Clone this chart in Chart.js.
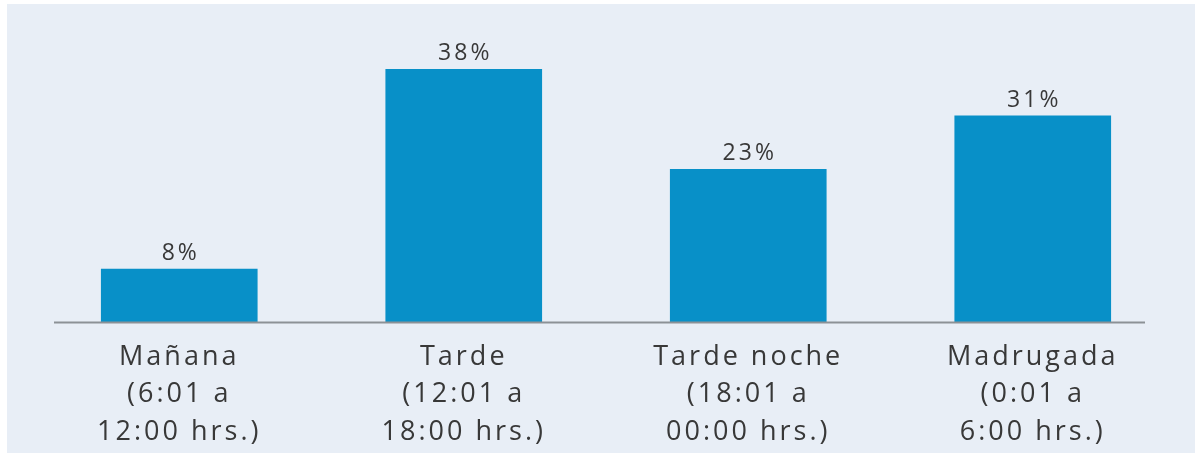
<!DOCTYPE html>
<html>
<head>
<meta charset="utf-8">
<script src="https://cdn.jsdelivr.net/npm/chart.js@4.4.1/dist/chart.umd.min.js"></script>
<style>
  html, body { margin: 0; padding: 0; background: #ffffff; }
  #wrap { position: relative; width: 1202px; height: 459px; }
  #panel { position: absolute; left: 7px; top: 4px; width: 1188px; height: 449px; background: #e8eef6; }
  #c { position: absolute; left: 0; top: 0; }
</style>
</head>
<body>
<div id="wrap">
  <div id="panel"></div>
  <canvas id="c" width="1202" height="459"></canvas>
</div>
<script>
const categories = [
  ["Mañana", "(6:01 a", "12:00 hrs.)"],
  ["Tarde", "(12:01 a", "18:00 hrs.)"],
  ["Tarde noche", "(18:01 a", "00:00 hrs.)"],
  ["Madrugada", "(0:01 a", "6:00 hrs.)"]
];
const values = [8, 38, 23, 31];
const valueLabels = ["8%", "38%", "23%", "31%"];

const TEXT = '#383838';
const FONT = '"Open Sans", "DejaVu Sans", sans-serif';

const spacingPlugin = {
  id: 'spacing',
  beforeLayout(chart) { chart.ctx.letterSpacing = '3px'; },
  beforeDraw(chart) { chart.ctx.letterSpacing = '3px'; }
};

const axisLinePlugin = {
  id: 'axisLine',
  afterDatasetsDraw(chart) {
    const ctx = chart.ctx;
    const xs = chart.scales.x;
    const ys = chart.scales.y;
    const y0 = ys.getPixelForValue(0);
    ctx.save();
    ctx.strokeStyle = '#8c9196';
    ctx.lineWidth = 2;
    ctx.beginPath();
    ctx.moveTo(xs.left + 17, y0);
    ctx.lineTo(xs.right - 30, y0);
    ctx.stroke();
    ctx.restore();
  }
};

const valueLabelPlugin = {
  id: 'valueLabels',
  afterDatasetsDraw(chart) {
    const ctx = chart.ctx;
    const meta = chart.getDatasetMeta(0);
    ctx.save();
    ctx.letterSpacing = '3px';
    ctx.font = '23px ' + FONT;
    ctx.fillStyle = TEXT;
    ctx.textAlign = 'center';
    ctx.textBaseline = 'alphabetic';
    meta.data.forEach((bar, i) => {
      ctx.fillText(valueLabels[i], bar.x + 1.5, bar.y - 9);
    });
    ctx.restore();
  }
};

new Chart(document.getElementById('c'), {
  type: 'bar',
  data: {
    labels: categories,
    datasets: [{
      data: values,
      backgroundColor: '#0890c8',
      borderWidth: 0,
      barThickness: 156
    }]
  },
  options: {
    responsive: false,
    animation: false,
    devicePixelRatio: 1,
    layout: { padding: { left: 37, right: 27, top: 56, bottom: -8 } },
    plugins: {
      legend: { display: false },
      tooltip: { enabled: false }
    },
    scales: {
      x: {
        grid: { display: false, drawTicks: false },
        border: { display: false },
        ticks: {
          color: TEXT,
          padding: 16,
          maxRotation: 0,
          autoSkip: false,
          font: { family: FONT, size: 27, lineHeight: 1.39 }
        }
      },
      y: {
        display: false,
        min: 0,
        max: 40
      }
    }
  },
  plugins: [spacingPlugin, axisLinePlugin, valueLabelPlugin]
});
</script>
</body>
</html>
